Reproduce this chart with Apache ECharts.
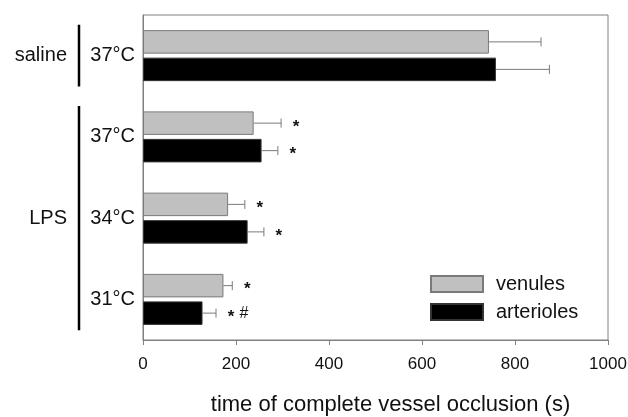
<!DOCTYPE html>
<html>
<head>
<meta charset="utf-8">
<script src="https://cdn.jsdelivr.net/npm/echarts@6/dist/echarts.min.js"></script>
<style>html,body{margin:0;padding:0;background:#fff;}#c{width:628px;height:417px;}</style>
</head>
<body>
<div id="c"></div>
<script>
// ---- data ----
var categories = ['37°C', '37°C', '34°C', '31°C'];
var venules = [744, 238, 183, 173];
var venulesErr = [112, 59, 36, 19];
var arterioles = [759, 255, 225, 128];
var arteriolesErr = [115, 35, 35, 29];
var venulesMarks = ['', '*', '*', '*'];
var arteriolesMarks = ['', '*', '*', '* #'];
var groupNames = ['saline', 'LPS'];
var groupFirst = [0, 1];
var groupLast = [0, 3];
var xTicks = [0, 200, 400, 600, 800, 1000];

// ---- style ----
var FONT = 'Liberation Sans, Arial, Helvetica, sans-serif';
var BAR_W = 23.5, GAP_PX = 4;
var GRAY = '#c0c0c0', EDGE = '#7a7a7a', FRAME = '#808080';

var chart = echarts.init(document.getElementById('c'), null, {renderer: 'canvas'});

function errSeries(vals, errs, marks, sign) {
  var data = vals.map(function (v, i) { return [v, i, errs[i]]; });
  return {
    type: 'custom',
    coordinateSystem: 'cartesian2d',
    z: 5,
    clip: false,
    silent: true,
    encode: {x: 0, y: 1},
    data: data,
    renderItem: function (params, api) {
      var v = api.value(0), idx = api.value(1), e = api.value(2);
      var mk = marks[idx];
      var p0 = api.coord([v, idx]);
      var p1 = api.coord([v + e, idx]);
      var y = p0[1] + sign * (BAR_W + GAP_PX) / 2;
      var ls = {stroke: EDGE, lineWidth: 1};
      var children = [
        {type: 'line', shape: {x1: p0[0], y1: y, x2: p1[0], y2: y}, style: ls},
        {type: 'line', shape: {x1: p1[0], y1: y - 4.5, x2: p1[0], y2: y + 4.5}, style: ls}
      ];
      if (mk) {
        var toks = mk.split(' ');
        var x = p1[0] + 15;
        toks.forEach(function (t) {
          children.push({
            type: 'text',
            style: {
              text: t, x: x, y: y + (t === '*' ? 4 : 0),
              fill: '#111', font: (t === '*' ? 'bold 17px ' : '16px ') + FONT,
              align: 'center', verticalAlign: 'middle'
            }
          });
          x += 13;
        });
      }
      return {type: 'group', children: children};
    }
  };
}

var option = {
  animation: false,
  backgroundColor: '#fff',
  textStyle: {fontFamily: FONT},
  grid: {left: 143, right: 20, top: 15, bottom: 77, containLabel: false, outerBoundsMode: 'none',
         show: true, borderColor: FRAME, borderWidth: 1, backgroundColor: 'transparent'},
  legend: {
    orient: 'vertical', left: 430, top: 274, padding: 0,
    itemWidth: 52, itemHeight: 16, itemGap: 8,
    icon: 'rect',
    textStyle: {fontSize: 20, color: '#111', fontFamily: FONT, padding: [0, 0, 0, 8]},
    data: ['venules', 'arterioles']
  },
  xAxis: {
    type: 'value', min: xTicks[0], max: xTicks[xTicks.length - 1], interval: 200,
    axisLine: {show: true, lineStyle: {color: FRAME, width: 1}},
    axisTick: {show: true, inside: false, length: 5, lineStyle: {color: FRAME}},
    axisLabel: {fontSize: 17, color: '#111', margin: 16, fontFamily: FONT,
                formatter: function (v) { return String(v); }},
    splitLine: {show: false},
    name: 'time of complete vessel occlusion (s)',
    nameLocation: 'middle', nameGap: 54,
    nameTextStyle: {fontSize: 22, color: '#111', fontFamily: FONT, padding: [0, 0, 0, 30]}
  },
  yAxis: {
    type: 'category', inverse: true, data: categories,
    axisLine: {show: true, lineStyle: {color: FRAME}},
    axisTick: {show: false},
    axisLabel: {fontSize: 20, color: '#111', margin: 8, fontFamily: FONT},
    splitLine: {show: false}
  },
  series: [
    {name: 'venules', type: 'bar', data: venules, barWidth: BAR_W, barGap: (GAP_PX / BAR_W * 100) + '%',
     itemStyle: {color: GRAY, borderColor: EDGE, borderWidth: 1}},
    {name: 'arterioles', type: 'bar', data: arterioles, barWidth: BAR_W,
     itemStyle: {color: '#000', borderColor: '#333', borderWidth: 1}},
    errSeries(venules, venulesErr, venulesMarks, -1),
    errSeries(arterioles, arteriolesErr, arteriolesMarks, 1)
  ]
};
chart.setOption(option);

// group labels + brackets, positioned through the category axis
var band = chart.convertToPixel({yAxisIndex: 0}, 1) - chart.convertToPixel({yAxisIndex: 0}, 0);
var graphics = [];
groupNames.forEach(function (g, k) {
  var yA = chart.convertToPixel({yAxisIndex: 0}, groupFirst[k]);
  var yB = chart.convertToPixel({yAxisIndex: 0}, groupLast[k]);
  var half = band * 0.38;
  graphics.push({
    type: 'line', shape: {x1: 79, y1: yA - half, x2: 79, y2: yB + half},
    style: {stroke: '#000', lineWidth: 2.5}
  });
  graphics.push({
    type: 'text', x: 67, y: (yA + yB) / 2,
    style: {text: g, fill: '#111', font: '20px ' + FONT, align: 'right', verticalAlign: 'middle'}
  });
});
chart.setOption({graphic: graphics});
</script>
</body>
</html>
